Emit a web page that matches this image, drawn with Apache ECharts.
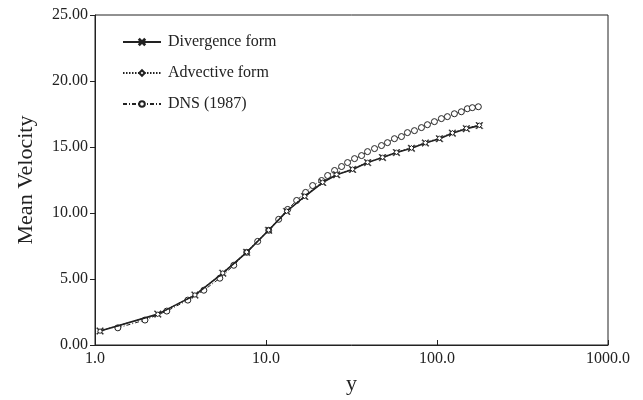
<!DOCTYPE html>
<html>
<head>
<meta charset="utf-8">
<script src="https://cdn.jsdelivr.net/npm/echarts@6/dist/echarts.min.js"></script>
<style>
html,body{margin:0;padding:0;background:#fff;}
#c{width:643px;height:400px;}
</style>
</head>
<body>
<div id="c"></div>
<script>
// ---- data ----
var seriesNames = ['Divergence form', 'Advective form', 'DNS (1987)'];
var xTickLabels = ['1.0', '10.0', '100.0', '1000.0'];
var yTickLabels = ['0.00', '5.00', '10.00', '15.00', '20.00', '25.00'];

var divY = [1.07, 2.33, 3.84, 5.59, 7.71, 10.37, 13.21, 16.83, 21.43, 25.86, 32.07, 39.25, 48.0, 57.94, 70.89, 85.54, 103.3, 123.0, 148.4, 176.8];
var divU = [1.06, 2.34, 3.78, 5.44, 7.02, 8.69, 10.12, 11.25, 12.31, 12.90, 13.30, 13.82, 14.20, 14.58, 14.90, 15.30, 15.63, 16.05, 16.39, 16.62];

var advY = [1.07, 2.33, 3.84, 5.59, 7.71, 10.37, 13.21, 16.83, 21.43, 25.86, 32.07, 39.25, 48.0, 57.94, 70.89, 85.54, 103.3, 123.0, 148.4, 176.8];
var advU = [1.05, 2.33, 3.79, 5.45, 7.04, 8.71, 10.14, 11.27, 12.33, 12.92, 13.32, 13.84, 14.22, 14.60, 14.93, 15.32, 15.66, 16.07, 16.42, 16.65];

var dnsY = [1.36, 1.96, 2.63, 3.49, 4.33, 5.37, 6.48, 7.71, 8.94, 10.37, 11.86, 13.39, 15.11, 17.05, 18.74, 21.14, 22.93, 25.18, 27.67, 29.99, 32.95, 36.21, 39.25, 43.12, 47.36, 51.33, 56.40, 61.97, 67.17, 73.81, 81.10, 87.90, 96.57, 106.1, 115.0, 126.4, 138.8, 150.5, 161.0, 174.5];
var dnsU = [1.30, 1.89, 2.57, 3.40, 4.15, 5.06, 6.04, 7.02, 7.85, 8.69, 9.52, 10.27, 10.95, 11.56, 12.08, 12.46, 12.84, 13.22, 13.52, 13.82, 14.12, 14.35, 14.65, 14.88, 15.11, 15.33, 15.63, 15.79, 16.09, 16.24, 16.47, 16.69, 16.92, 17.15, 17.30, 17.52, 17.67, 17.90, 17.98, 18.05];

function zip(a, b) { return a.map(function (v, i) { return [v, b[i]]; }); }

var ink = '#222';
var font = '"Liberation Serif", "Times New Roman", serif';
var xMark = 'path://M0,1 L1,0 L5,4 L9,0 L10,1 L6,5 L10,9 L9,10 L5,6 L1,10 L0,9 L4,5 Z';

var chart = echarts.init(document.getElementById('c'), null, {renderer: 'canvas'});
chart.setOption({
  backgroundColor: '#fff',
  animation: false,
  textStyle: {fontFamily: font, color: ink},
  grid: {left: 95, right: 35, top: 15, bottom: 54, show: true, borderColor: ink, borderWidth: 1, backgroundColor: 'transparent'},
  legend: {
    orient: 'vertical', left: 117, top: 29,
    itemWidth: 38, itemHeight: 7, itemGap: 15,
    textStyle: {fontFamily: font, fontSize: 16, color: ink, padding: [0, 0, 0, 2]},
    data: seriesNames
  },
  xAxis: {
    type: 'log', logBase: 10, min: 1, max: 1000,
    name: 'y', nameLocation: 'middle', nameGap: 28,
    nameTextStyle: {fontFamily: font, fontSize: 22, color: ink},
    axisLine: {show: true, lineStyle: {color: ink, width: 1}},
    axisTick: {show: true, inside: true, length: 5, lineStyle: {color: ink}},
    minorTick: {show: false},
    splitLine: {show: false},
    axisLabel: {
      fontFamily: font, fontSize: 16, color: ink, margin: 6,
      formatter: function (v, i) { return xTickLabels[Math.round(Math.log10(v))]; }
    }
  },
  yAxis: {
    type: 'value', min: 0, max: 25, interval: 5,
    name: 'Mean Velocity', nameLocation: 'middle', nameGap: 58,
    nameTextStyle: {fontFamily: font, fontSize: 22, color: ink, padding: [0, 0, 0, 0]},
    axisLine: {show: true, lineStyle: {color: ink, width: 1}},
    axisTick: {show: true, inside: false, length: 5, lineStyle: {color: ink}},
    splitLine: {show: false},
    axisLabel: {
      fontFamily: font, fontSize: 16, color: ink, margin: 7,
      formatter: function (v) { return yTickLabels[Math.round(v / 5)]; }
    }
  },
  series: [
    {
      name: seriesNames[0], type: 'line', data: zip(divY, divU),
      symbol: xMark, symbolSize: 7, showAllSymbol: true,
      lineStyle: {color: ink, width: 1.6, type: 'solid'},
      itemStyle: {color: ink, borderColor: ink, borderWidth: 0.5},
      z: 3
    },
    {
      name: seriesNames[1], type: 'line', data: zip(advY, advU),
      symbol: 'diamond', symbolSize: 5, showAllSymbol: true,
      lineStyle: {color: ink, width: 1.2, type: [1.5, 1.5]},
      itemStyle: {color: '#fff', borderColor: ink, borderWidth: 1},
      z: 4
    },
    {
      name: seriesNames[2], type: 'line', data: zip(dnsY, dnsU),
      symbol: 'circle', symbolSize: 6, showAllSymbol: true,
      lineStyle: {color: ink, width: 1, type: [4, 2, 1, 2]},
      itemStyle: {color: '#fff', borderColor: ink, borderWidth: 1},
      z: 2
    }
  ]
});
</script>
</body>
</html>
